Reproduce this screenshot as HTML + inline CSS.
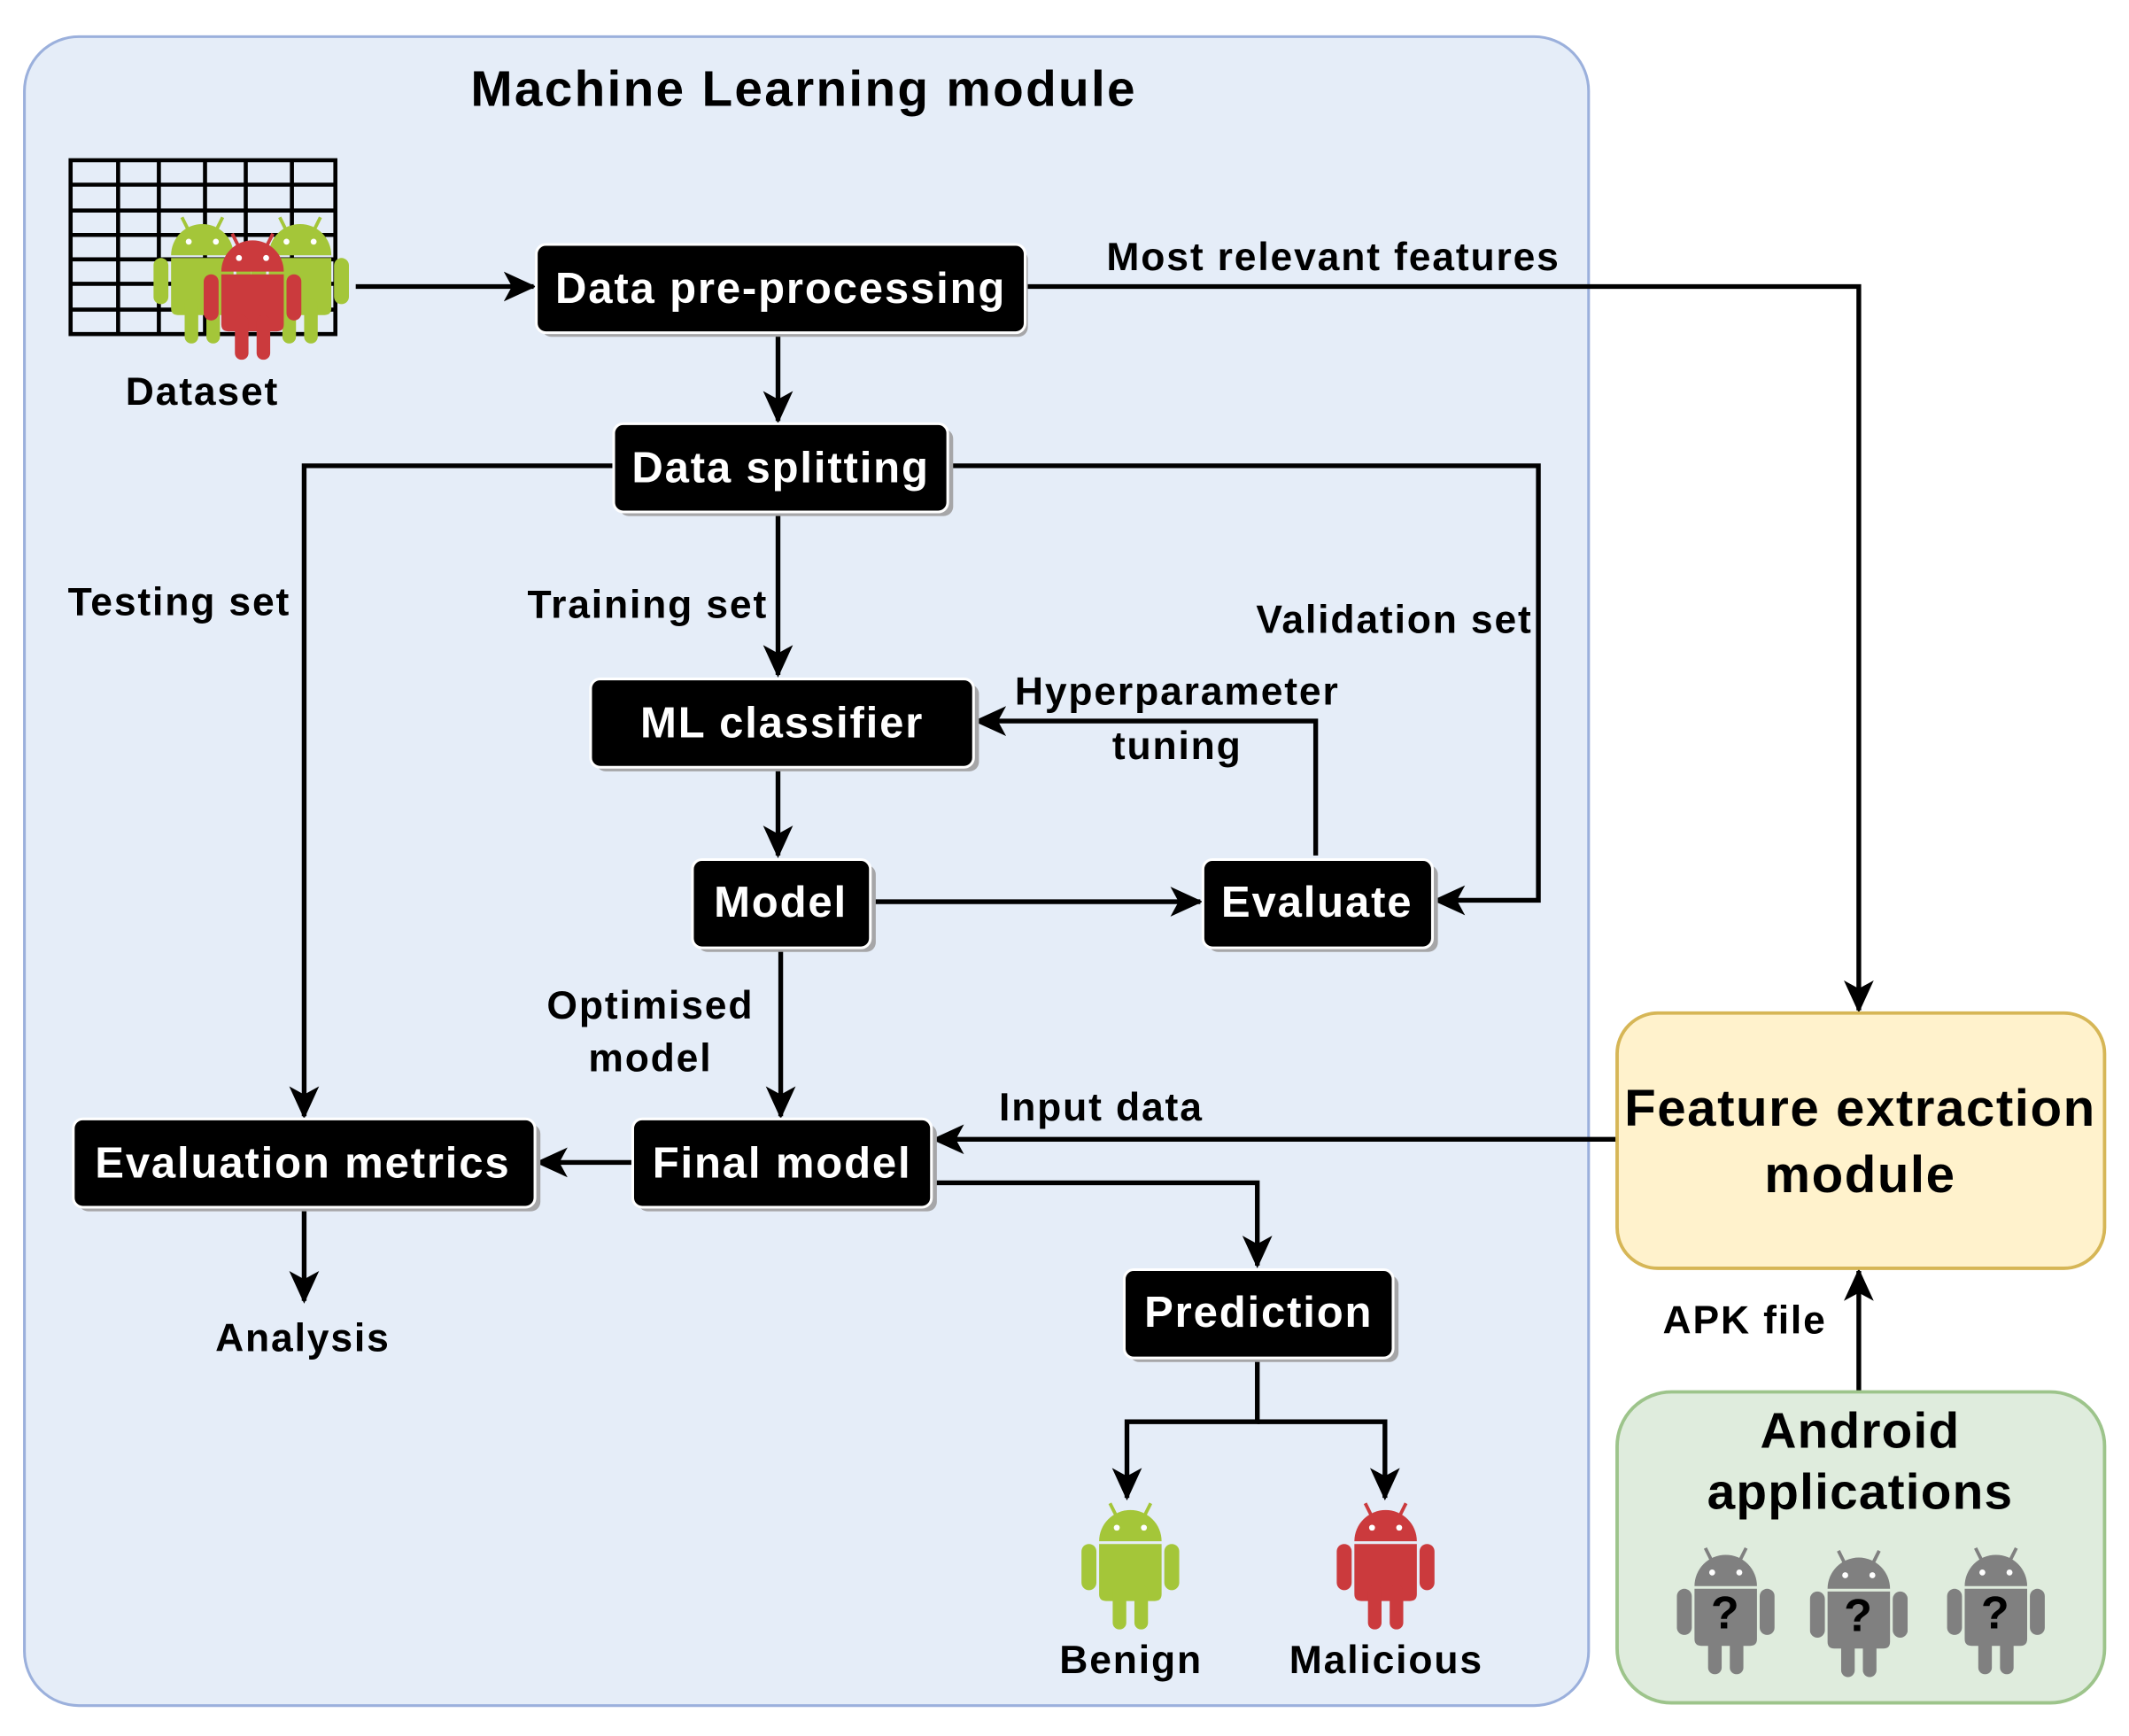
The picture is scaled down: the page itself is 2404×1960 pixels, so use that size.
<!DOCTYPE html>
<html><head><meta charset="utf-8"><style>
html,body{margin:0;padding:0;background:#fff}
svg{display:block}
text{font-family:"Liberation Sans",Arial,sans-serif;font-weight:bold;letter-spacing:1.2px}
</style></head><body>
<svg width="2404" height="1960" viewBox="0 0 1568 1278.4" xmlns="http://www.w3.org/2000/svg">
<defs>
<marker id="ah" viewBox="0 0 24 24" refX="22" refY="12" markerWidth="24" markerHeight="24" markerUnits="userSpaceOnUse" orient="auto">
<path d="M0,1 L24,12 L0,23 L6,12 Z" fill="#000"/>
</marker>
<symbol id="andr" viewBox="0 0 72 95">
<line x1="26" y1="12" x2="21" y2="2" stroke="currentColor" stroke-width="2.5"/>
<line x1="46" y1="12" x2="51" y2="2" stroke="currentColor" stroke-width="2.5"/>
<path d="M13,30 A23,23 0 0 1 59,30 Z" fill="currentColor"/>
<circle cx="26" cy="20" r="2.2" fill="#fff"/><circle cx="46" cy="20" r="2.2" fill="#fff"/>
<path d="M13,32 H59 V69 Q59,74 54,74 H18 Q13,74 13,69 Z" fill="currentColor"/>
<rect x="0" y="32" width="11" height="34" rx="5.5" fill="currentColor"/>
<rect x="61" y="32" width="11" height="34" rx="5.5" fill="currentColor"/>
<rect x="23" y="62" width="10" height="33" rx="5" fill="currentColor"/>
<rect x="39" y="62" width="10" height="33" rx="5" fill="currentColor"/>
</symbol>
</defs>
<rect width="1568" height="1280" fill="#fff"/>
<rect x="18" y="27" width="1152" height="1229" rx="40" fill="#e5edf8" stroke="#9bb0dc" stroke-width="2"/>
<text x="592" y="78" font-size="37" text-anchor="middle" style="letter-spacing:1.5px">Machine Learning module</text>

<g stroke="#000" stroke-width="3" fill="none">
<rect x="52" y="118" width="195" height="128"/>
<line x1="87" y1="118" x2="87" y2="246"/><line x1="117" y1="118" x2="117" y2="246"/><line x1="151" y1="118" x2="151" y2="246"/><line x1="181" y1="118" x2="181" y2="246"/><line x1="215" y1="118" x2="215" y2="246"/>
<line x1="52" y1="136" x2="247" y2="136"/><line x1="52" y1="155" x2="247" y2="155"/><line x1="52" y1="173" x2="247" y2="173"/><line x1="52" y1="191" x2="247" y2="191"/><line x1="52" y1="209" x2="247" y2="209"/><line x1="52" y1="228" x2="247" y2="228"/>
</g>
<use href="#andr" x="113" y="158" width="72" height="95" color="#a4c639"/>
<use href="#andr" x="185" y="158" width="72" height="95" color="#a4c639"/>
<use href="#andr" x="150" y="170" width="72" height="95" color="#cb3a3d"/>
<text x="149" y="298" font-size="29" text-anchor="middle">Dataset</text>

<g stroke="#000" stroke-width="3.5" fill="none" marker-end="url(#ah)">
<path d="M262,211 H393"/>
<path d="M754,211 H1369 V744"/>
<path d="M573,246 V310"/>
<path d="M453,343 H224 V822"/>
<path d="M697,343 H1133 V663 H1057"/>
<path d="M573,378 V497"/>
<path d="M969,630 V531 H719"/>
<path d="M573,566 V630"/>
<path d="M640,664 H884"/>
<path d="M575,699 V822"/>
<path d="M467,856 H396"/>
<path d="M224,890 V958"/>
<path d="M685,871 H926 V932"/>
<path d="M1190,839 H688"/>
<path d="M926,1001 V1047 H830 V1103"/>
<path d="M926,1047 H1020 V1103"/>
<path d="M1369,1024 V936"/>
</g>

<g font-size="29" text-anchor="middle">
<text x="982" y="199">Most relevant features</text>
<text x="132" y="453">Testing set</text>
<text x="477" y="455">Training set</text>
<text x="1027" y="466">Validation set</text>
<text x="867" y="519">Hyperparameter</text>
<text x="867" y="559">tuning</text>
<text x="479" y="750">Optimised</text>
<text x="479" y="789">model</text>
<text x="811" y="825">Input data</text>
<text x="223" y="995">Analysis</text>
<text x="833" y="1232">Benign</text>
<text x="1021" y="1232">Malicious</text>
<text x="1285" y="982">APK file</text>
</g>

<g style="letter-spacing:1px">
<rect x="399" y="184" width="358" height="64" rx="7" fill="#a6a6a8"/>
<rect x="395" y="180" width="360" height="65" rx="7" fill="#000" stroke="#fff" stroke-width="2"/>
<text x="575" y="223" font-size="32" fill="#fff" text-anchor="middle">Data pre-processing</text>

<rect x="456" y="316" width="246" height="64" rx="7" fill="#a6a6a8"/>
<rect x="452" y="312" width="246" height="65" rx="7" fill="#000" stroke="#fff" stroke-width="2"/>
<text x="575" y="355" font-size="32" fill="#fff" text-anchor="middle">Data splitting</text>

<rect x="439" y="504" width="282" height="64" rx="7" fill="#a6a6a8"/>
<rect x="435" y="500" width="282" height="65" rx="7" fill="#000" stroke="#fff" stroke-width="2"/>
<text x="576" y="543" font-size="32" fill="#fff" text-anchor="middle">ML classifier</text>

<rect x="514" y="637" width="131" height="64" rx="7" fill="#a6a6a8"/>
<rect x="510" y="633" width="131" height="65" rx="7" fill="#000" stroke="#fff" stroke-width="2"/>
<text x="575" y="675" font-size="32" fill="#fff" text-anchor="middle">Model</text>

<rect x="890" y="637" width="169" height="64" rx="7" fill="#a6a6a8"/>
<rect x="886" y="633" width="169" height="65" rx="7" fill="#000" stroke="#fff" stroke-width="2"/>
<text x="970" y="675" font-size="32" fill="#fff" text-anchor="middle">Evaluate</text>

<rect x="470" y="828" width="220" height="64" rx="7" fill="#a6a6a8"/>
<rect x="466" y="824" width="220" height="65" rx="7" fill="#000" stroke="#fff" stroke-width="2"/>
<text x="576" y="867" font-size="32" fill="#fff" text-anchor="middle">Final model</text>

<rect x="58" y="828" width="340" height="64" rx="7" fill="#a6a6a8"/>
<rect x="54" y="824" width="340" height="65" rx="7" fill="#000" stroke="#fff" stroke-width="2"/>
<text x="223" y="867" font-size="32" fill="#fff" text-anchor="middle">Evaluation metrics</text>

<rect x="832" y="939" width="198" height="64" rx="7" fill="#a6a6a8"/>
<rect x="828" y="935" width="198" height="65" rx="7" fill="#000" stroke="#fff" stroke-width="2"/>
<text x="927" y="977" font-size="32" fill="#fff" text-anchor="middle">Prediction</text>
</g>

<use href="#andr" x="796" y="1105" width="73" height="95" color="#a4c639"/>
<use href="#andr" x="984" y="1105" width="73" height="95" color="#cb3a3d"/>

<rect x="1191" y="746" width="359" height="188" rx="30" fill="#fff2cc" stroke="#d6b656" stroke-width="2.5"/>
<text x="1370" y="829" font-size="38" text-anchor="middle" style="letter-spacing:1px">Feature extraction</text>
<text x="1370" y="878" font-size="38" text-anchor="middle" style="letter-spacing:1px">module</text>

<rect x="1191" y="1025" width="359" height="229" rx="40" fill="#dfecdd" stroke="#9dc48b" stroke-width="2.5"/>
<text x="1370" y="1066" font-size="37" text-anchor="middle" style="letter-spacing:0.8px">Android</text>
<text x="1370" y="1111" font-size="37" text-anchor="middle" style="letter-spacing:0.8px">applications</text>
<use href="#andr" x="1235" y="1138" width="72" height="95" color="#808080"/>
<use href="#andr" x="1333" y="1140" width="72" height="95" color="#808080"/>
<use href="#andr" x="1434" y="1138" width="72" height="95" color="#808080"/>
<g font-size="34" text-anchor="middle" style="letter-spacing:0">
<text x="1271" y="1199">?</text>
<text x="1369" y="1201">?</text>
<text x="1470" y="1199">?</text>
</g>
</svg>
</body></html>
